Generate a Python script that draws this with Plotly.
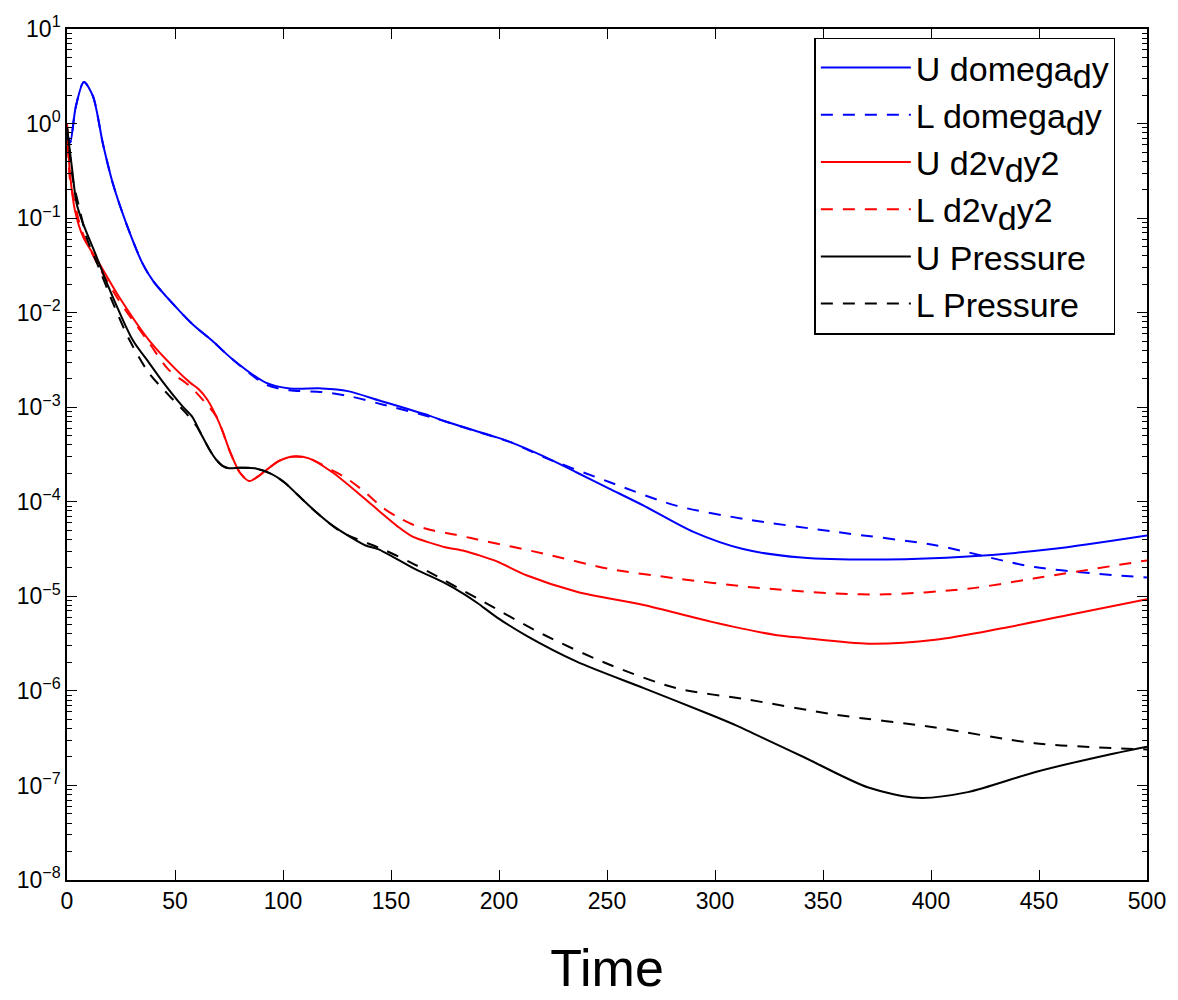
import plotly.graph_objects as go

# ---- data ----
t_u_omega = [0, 1.5, 4, 7.8, 12, 16.7, 21.3, 27.5, 35, 40, 46, 58, 67, 77, 92, 103, 118, 130, 145, 168, 175,
             199, 205, 221, 236, 251, 267, 290, 313, 340, 379, 417, 456, 500]
u_omega = [0.79, 0.63, 1.48, 2.75, 1.95, 0.60, 0.229, 0.087, 0.033, 0.0214, 0.0148, 0.0076, 0.0051, 0.00316,
           0.00182, 0.00158, 0.00158, 0.00148, 0.00117, 0.00081, 0.00071, 0.00048, 0.00043, 0.0003,
           0.000204, 0.000138, 9.1e-5, 4.8e-5, 3.16e-5, 2.57e-5, 2.45e-5, 2.63e-5, 3.16e-5, 4.4e-5]

t_l_omega = [0, 1.5, 4, 7.8, 12, 16.7, 21.3, 27.5, 35, 40, 46, 58, 67, 77, 92, 103, 118, 130, 146, 169, 190,
             205, 221, 251, 282, 315, 356, 402, 448, 500]
l_omega = [0.79, 0.63, 1.48, 2.75, 1.95, 0.60, 0.229, 0.087, 0.033, 0.0214, 0.0148, 0.0076, 0.0051, 0.00316,
           0.00174, 0.00151, 0.00145, 0.00132, 0.00107, 0.00078, 0.00055, 0.00043, 0.000295,
           0.000162, 9.1e-5, 6.5e-5, 4.8e-5, 3.47e-5, 2.04e-5, 1.58e-5]

t_u_d2v = [0, 1.4, 3.7, 7.5, 15, 24, 38, 50.5, 57, 61, 65, 69, 72, 75, 77, 80, 84.3, 88, 92, 98, 104, 112,
           123, 138, 145, 153, 160, 169, 175, 184, 190, 199, 213, 236, 267, 298, 328, 341, 371, 402, 433,
           463, 500]
u_d2v = [1.0, 0.295, 0.12, 0.063, 0.033, 0.0148, 0.0051, 0.0025, 0.00182, 0.00155, 0.0012, 0.00081,
         0.00056, 0.00036, 0.00028, 0.000204, 0.000166, 0.000182, 0.000214, 0.000269, 0.0003, 0.000288,
         0.000204, 0.000107, 7.8e-5, 5.5e-5, 4.27e-5, 3.63e-5, 3.31e-5, 3.02e-5, 2.75e-5, 2.34e-5, 1.66e-5,
         1.12e-5, 8.1e-6, 5.4e-6, 3.9e-6, 3.63e-6, 3.16e-6, 3.47e-6, 4.6e-6, 6.3e-6, 9.3e-6]

t_l_d2v = [0, 1.4, 3, 6.8, 15, 24, 38, 47, 57, 64, 69, 72, 75, 77, 80, 84.3, 88, 92, 98, 104, 112, 123,
           130, 138, 146, 153, 160, 169, 180, 190, 221, 251, 282, 315, 356, 379, 417, 448, 500]
l_d2v = [1.0, 0.25, 0.166, 0.074, 0.030, 0.0135, 0.0048, 0.0025, 0.00166, 0.00112, 0.00081, 0.00056,
         0.00036, 0.00028, 0.000204, 0.000166, 0.000182, 0.000214, 0.000269, 0.0003, 0.000288, 0.000214,
         0.000174, 0.000126, 8.7e-5, 6.9e-5, 5.75e-5, 5.0e-5, 4.47e-5, 4.0e-5, 2.82e-5, 1.95e-5, 1.55e-5,
         1.26e-5, 1.07e-5, 1.05e-5, 1.2e-5, 1.55e-5, 2.4e-5]

t_u_p = [0, 2.1, 4.5, 7.5, 13.7, 19.8, 30.5, 38, 44, 53.5, 58, 62, 66, 69, 72, 75, 80, 87, 95, 101, 107,
         115, 123, 138, 144, 161, 175, 184, 190, 199, 213, 236, 267, 298, 310, 328, 341, 371, 394, 417,
         448, 479, 500]
u_p = [0.91, 0.37, 0.141, 0.087, 0.039, 0.0174, 0.0051, 0.00295, 0.0019, 0.00102, 0.00079, 0.000525,
       0.000355, 0.00028, 0.00024, 0.000226, 0.000229, 0.000226, 0.000195, 0.000158, 0.000117, 7.9e-5,
       5.6e-5, 3.47e-5, 3.16e-5, 1.95e-5, 1.38e-5, 1.05e-5, 8.5e-6, 6.0e-6, 3.8e-6, 2.04e-6, 1.07e-6,
       5.6e-7, 4.3e-7, 2.75e-7, 2.0e-7, 9.5e-8, 7.4e-8, 8.5e-8, 1.38e-7, 2.04e-7, 2.57e-7]

t_l_p = [0, 2.9, 6, 9, 15.2, 21.3, 29, 38, 47.4, 55, 60, 62, 66, 69, 72, 75, 80, 87, 95, 101, 107, 115,
         127, 146, 159, 169, 190, 221, 251, 282, 315, 356, 402, 448, 500]
l_p = [0.91, 0.245, 0.12, 0.063, 0.0282, 0.0126, 0.0051, 0.00229, 0.00132, 0.00087, 0.00063, 0.000525,
       0.000355, 0.00028, 0.00024, 0.000226, 0.000229, 0.000226, 0.000195, 0.000158, 0.000117, 7.9e-5,
       4.8e-5, 3.16e-5, 2.29e-5, 1.74e-5, 9.5e-6, 3.9e-6, 1.9e-6, 1.07e-6, 8.1e-7, 5.6e-7, 4.1e-7,
       2.8e-7, 2.4e-7]

LEG_SIZE = 34
SUB_D = "<sub><span style='font-size:%dpx'>d</span></sub>" % LEG_SIZE
names = ["U domega" + SUB_D + "y", "L domega" + SUB_D + "y", "U d2v" + SUB_D + "y2",
         "L d2v" + SUB_D + "y2", "U Pressure", "L Pressure"]
x_ticks = [0, 50, 100, 150, 200, 250, 300, 350, 400, 450, 500]
y_exps = [1, 0, -1, -2, -3, -4, -5, -6, -7, -8]

series = [
    (t_u_omega, u_omega, "#0000ff", "solid"),
    (t_l_omega, l_omega, "#0000ff", "dash"),
    (t_u_d2v, u_d2v, "#ff0000", "solid"),
    (t_l_d2v, l_d2v, "#ff0000", "dash"),
    (t_u_p, u_p, "#000000", "solid"),
    (t_l_p, l_p, "#000000", "dash"),
]

FONT = "Liberation Sans, Arial, Helvetica, sans-serif"

fig = go.Figure()
for i, ((tx, vy, col, dash), nm) in enumerate(zip(series, names)):
    fig.add_trace(go.Scatter(
        x=tx, y=vy, mode="lines", name=nm, legendgroup="g%d" % i,
        line=dict(color=col, width=2, dash="12px,10px" if dash == "dash" else "solid",
                  shape="spline", smoothing=0.8),
    ))

fig.update_layout(
    width=1178, height=1000,
    margin=dict(l=67, r=25, t=24, b=120),
    paper_bgcolor="white", plot_bgcolor="white",
    font=dict(family=FONT, color="black", size=23),
    showlegend=True,
    legend=dict(
        x=0.692, y=0.99, xanchor="left", yanchor="top",
        bgcolor="white", bordercolor="black", borderwidth=1.5,
        font=dict(family=FONT, size=LEG_SIZE, color="black"),
        itemwidth=90, traceorder="grouped", tracegroupgap=0,
    ),
)

fig.update_xaxes(
    range=[0, 500], tickvals=x_ticks, ticktext=[str(v) for v in x_ticks],
    ticks="inside", ticklen=10, tickwidth=1.3, tickcolor="black",
    showline=True, linecolor="black", linewidth=1.6, mirror="allticks",
    showgrid=False, zeroline=False,
    tickfont=dict(family=FONT, size=23, color="black"),
    title=dict(text="Time", font=dict(family=FONT, size=52, color="black"), standoff=36),
)

fig.update_yaxes(
    type="log", range=[-8, 1],
    tickvals=[10.0 ** e for e in y_exps],
    ticktext=["10<sup>%s</sup>" % (str(e).replace("-", "\u2212")) for e in y_exps],
    ticks="inside", ticklen=10, tickwidth=1.3, tickcolor="black",
    minor=dict(ticks="inside", ticklen=5, tickwidth=1.3, tickcolor="black", dtick="D1", showgrid=False),
    showline=True, linecolor="black", linewidth=1.6, mirror="allticks",
    showgrid=False, zeroline=False,
    tickfont=dict(family=FONT, size=23, color="black"),
)

fig.write_html("out.html")
